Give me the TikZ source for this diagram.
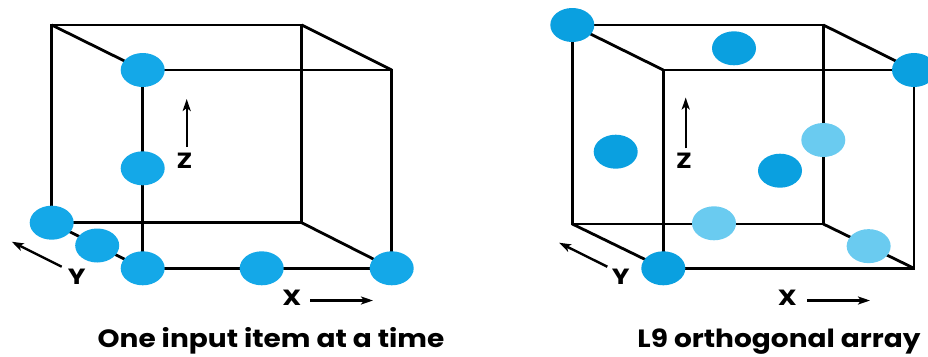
\documentclass[tikz,border=0pt]{standalone}
\usepackage{fontspec}
\setmainfont{Poppins}
\usetikzlibrary{positioning,arrows.meta,shapes.geometric,calc}
\definecolor{cian}{HTML}{14A8E8}
\definecolor{cianosc}{HTML}{0AA0E0}
\definecolor{cianclaro}{HTML}{6ACBF0}

\begin{document}
\begin{tikzpicture}[x=1pt, y=-1pt, >={Stealth[length=12pt, width=8pt, inset=3pt]},
      arista/.style={line width=2.8pt, line join=miter},
      blob/.style={ellipse, fill=cian, minimum width=44pt, minimum height=34pt, inner sep=0pt},
      dk/.style={blob, fill=cianosc},
      lt/.style={blob, fill=cianclaro},
      eje/.style={->, line width=2.4pt},
      lab/.style={font=\fontsize{22}{22}\selectfont\bfseries\addfontfeature{FakeStretch=1.2}, inner sep=0pt, anchor=base},
      titulo/.style={font=\fontsize{25}{28}\selectfont\bfseries\addfontfeature{FakeStretch=1.12}, inner sep=0pt, anchor=base}]
    \useasboundingbox (0,0) rectangle (928,356);
    % left cube
    \coordinate (Lb1) at (51.7,25);   \coordinate (Lb2) at (301.7,25);
    \coordinate (Lb3) at (301.7,222.7); \coordinate (Lb4) at (51.7,222.7);
    \coordinate (Lf1) at (142.7,70);  \coordinate (Lf2) at (391.7,70);
    \coordinate (Lf3) at (391.7,268.3); \coordinate (Lf4) at (142.7,268.3);
    \draw[arista] (Lb1) -- (Lb2) -- (Lb3) -- (Lb4) -- cycle;
    \draw[arista] (Lf1) -- (Lf2) -- (Lf3) -- (Lf4) -- cycle;
    \foreach \i in {1,...,4} \draw[arista] (Lb\i) -- (Lf\i);
    \node[blob] (l1) at (Lf1) {};
    \node[blob] (l2) at (142.7,168.3) {};
    \node[blob] (l3) at (Lb4) {};
    \node[blob] (l4) at ($(Lb4)!0.5!(Lf4)$) {};
    \node[blob] (l5) at (Lf4) {};
    \node[blob] (l6) at (261.7,268.3) {};
    \node[blob] (l7) at (Lf3) {};
    \coordinate (Lz0) at (186.7,147); \coordinate (Lz1) at (186.7,99);
    \draw[eje] (Lz0) -- (Lz1);
    \node[lab] (Lz) at (184.5,168) {Z};
    \coordinate (Ly0) at (61.7,266.7); \coordinate (Ly1) at (11.7,241.7);
    \draw[eje] (Ly0) -- (Ly1);
    \node[lab] (Ly) at (76.7,284) {Y};
    \coordinate (Lx0) at (310,300.5); \coordinate (Lx1) at (373,300.5);
    \draw[eje] (Lx0) -- (Lx1);
    \node[lab] (Lx) at (291.7,305.5) {X};
    \node[titulo] (Lcap) at (271,347) {One input item at a time};
    % right cube
    \coordinate (Rb1) at (572.3,25);   \coordinate (Rb2) at (823.3,25);
    \coordinate (Rb3) at (823.3,224);  \coordinate (Rb4) at (572.3,224);
    \coordinate (Rf1) at (663.3,70);   \coordinate (Rf2) at (914,70);
    \coordinate (Rf3) at (914,268.3);  \coordinate (Rf4) at (663.3,268.3);
    \draw[arista] (Rb1) -- (Rb2) -- (Rb3) -- (Rb4) -- cycle;
    \draw[arista] (Rf1) -- (Rf2) -- (Rf3) -- (Rf4) -- cycle;
    \foreach \i in {1,...,4} \draw[arista] (Rb\i) -- (Rf\i);
    \node[dk] (r1) at (Rb1) {};
    \node[dk] (r2) at (734,48.3) {};
    \node[dk] (r3) at (Rf2) {};
    \node[dk] (r4) at (615.7,151.7) {};
    \node[lt] (r5) at (823.3,140) {};
    \node[dk] (r6) at (780,170.7) {};
    \node[lt] (r7) at (714,223.3) {};
    \node[lt] (r8) at ($(Rb3)!0.5!(Rf3)$) {};
    \node[dk] (r9) at (Rf4) {};
    \coordinate (Rz0) at (685.7,148.3); \coordinate (Rz1) at (685.7,97.5);
    \draw[eje] (Rz0) -- (Rz1);
    \node[lab] (Rz) at (684,168) {Z};
    \coordinate (Ry0) at (607.3,266.7); \coordinate (Ry1) at (559,242.7);
    \draw[eje] (Ry0) -- (Ry1);
    \node[lab] (Ry) at (620.7,284) {Y};
    \coordinate (Rx0) at (807.3,300.5); \coordinate (Rx1) at (870,300.5);
    \draw[eje] (Rx0) -- (Rx1);
    \node[lab] (Rx) at (787.3,305.5) {X};
    \node[titulo] (Rcap) at (779,347) {L9 orthogonal array};
  \end{tikzpicture}
\end{document}
